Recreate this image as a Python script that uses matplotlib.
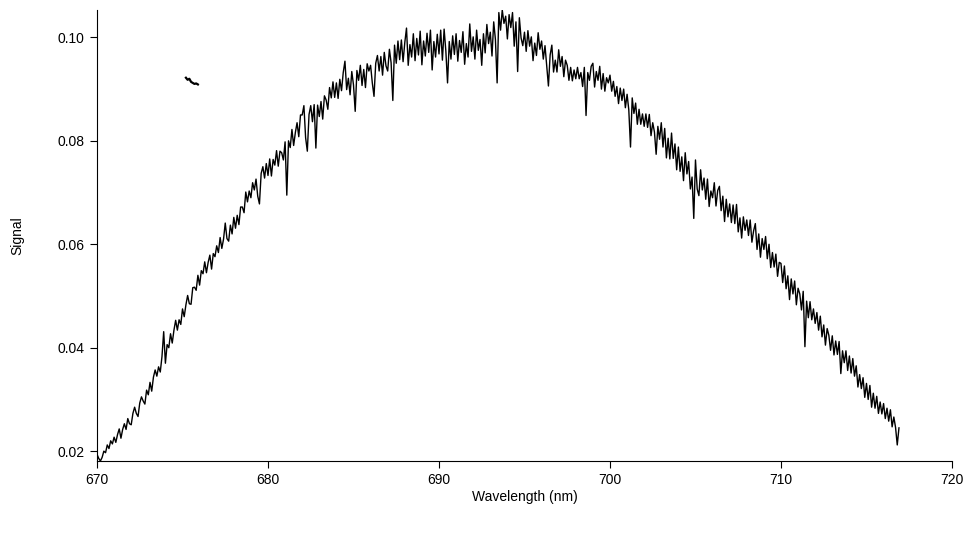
import numpy as np
import matplotlib
matplotlib.use("Agg")
import matplotlib.pyplot as plt

plt.rcParams['font.family'] = ['Liberation Sans', 'DejaVu Sans']

# Wavelength start (nm) and step of the main trace
wl_start = 670.0
wl_step = 0.1

# Signal values, one row per nm (670.0 ... 716.9)
signal_rows = [
    [0.0194, 0.0186, 0.0181, 0.0188, 0.0200, 0.0197, 0.0212, 0.0205, 0.0220, 0.0214],  # 670
    [0.0227, 0.0217, 0.0232, 0.0243, 0.0225, 0.0242, 0.0253, 0.0242, 0.0263, 0.0253],  # 671
    [0.0251, 0.0273, 0.0285, 0.0273, 0.0267, 0.0293, 0.0305, 0.0297, 0.0291, 0.0318],  # 672
    [0.0309, 0.0333, 0.0316, 0.0343, 0.0357, 0.0345, 0.0363, 0.0353, 0.0383, 0.0431],  # 673
    [0.0370, 0.0406, 0.0400, 0.0427, 0.0409, 0.0434, 0.0453, 0.0434, 0.0454, 0.0445],  # 674
    [0.0475, 0.0460, 0.0483, 0.0501, 0.0485, 0.0484, 0.0516, 0.0517, 0.0511, 0.0540],  # 675
    [0.0521, 0.0549, 0.0543, 0.0566, 0.0545, 0.0565, 0.0579, 0.0552, 0.0582, 0.0576],  # 676
    [0.0597, 0.0584, 0.0613, 0.0592, 0.0610, 0.0641, 0.0611, 0.0606, 0.0637, 0.0620],  # 677
    [0.0652, 0.0631, 0.0656, 0.0638, 0.0672, 0.0672, 0.0661, 0.0701, 0.0682, 0.0703],  # 678
    [0.0690, 0.0719, 0.0705, 0.0726, 0.0693, 0.0678, 0.0737, 0.0750, 0.0728, 0.0756],  # 679
    [0.0733, 0.0765, 0.0732, 0.0764, 0.0753, 0.0781, 0.0751, 0.0780, 0.0777, 0.0763],  # 680
    [0.0798, 0.0695, 0.0800, 0.0787, 0.0822, 0.0791, 0.0816, 0.0835, 0.0808, 0.0850],  # 681
    [0.0850, 0.0868, 0.0806, 0.0780, 0.0851, 0.0868, 0.0837, 0.0870, 0.0786, 0.0869],  # 682
    [0.0847, 0.0876, 0.0842, 0.0887, 0.0879, 0.0861, 0.0903, 0.0883, 0.0914, 0.0884],  # 683
    [0.0912, 0.0882, 0.0919, 0.0897, 0.0932, 0.0954, 0.0899, 0.0921, 0.0889, 0.0934],  # 684
    [0.0908, 0.0857, 0.0936, 0.0917, 0.0946, 0.0907, 0.0938, 0.0903, 0.0949, 0.0935],  # 685
    [0.0946, 0.0912, 0.0886, 0.0950, 0.0965, 0.0935, 0.0963, 0.0927, 0.0971, 0.0945],  # 686
    [0.0935, 0.0977, 0.0951, 0.0878, 0.0985, 0.0950, 0.0993, 0.0957, 0.0995, 0.0953],  # 687
    [0.0990, 0.1018, 0.0946, 0.0986, 0.0962, 0.1007, 0.0955, 0.0998, 0.0966, 0.1012],  # 688
    [0.0947, 0.0993, 0.0964, 0.1008, 0.0971, 0.1014, 0.0937, 0.0992, 0.0962, 0.1006],  # 689
    [0.0968, 0.1014, 0.0956, 0.1016, 0.0974, 0.0912, 0.0992, 0.0958, 0.1003, 0.0967],  # 690
    [0.1007, 0.0954, 0.0994, 0.0971, 0.1011, 0.0948, 0.0988, 0.0962, 0.1026, 0.0973],  # 691
    [0.1001, 0.0958, 0.1014, 0.0975, 0.0996, 0.0946, 0.1007, 0.0970, 0.1025, 0.0988],  # 692
    [0.1010, 0.0964, 0.1030, 0.0996, 0.0912, 0.1048, 0.1014, 0.1053, 0.1027, 0.1041],  # 693
    [0.0997, 0.1044, 0.1019, 0.1048, 0.0983, 0.1030, 0.0934, 0.1038, 0.0999, 0.0984],  # 694
    [0.1010, 0.0973, 0.1013, 0.0983, 0.1001, 0.0955, 0.0989, 0.0965, 0.1009, 0.0977],  # 695
    [0.0993, 0.0958, 0.0984, 0.0944, 0.0906, 0.0966, 0.0985, 0.0933, 0.0956, 0.0933],  # 696
    [0.0976, 0.0944, 0.0963, 0.0924, 0.0956, 0.0946, 0.0917, 0.0942, 0.0916, 0.0937],  # 697
    [0.0920, 0.0942, 0.0920, 0.0932, 0.0905, 0.0942, 0.0849, 0.0932, 0.0917, 0.0944],  # 698
    [0.0950, 0.0904, 0.0934, 0.0917, 0.0944, 0.0900, 0.0930, 0.0896, 0.0922, 0.0912],  # 699
    [0.0927, 0.0896, 0.0915, 0.0886, 0.0905, 0.0872, 0.0902, 0.0878, 0.0900, 0.0864],  # 700
    [0.0890, 0.0860, 0.0788, 0.0883, 0.0853, 0.0873, 0.0832, 0.0861, 0.0832, 0.0852],  # 701
    [0.0828, 0.0852, 0.0826, 0.0851, 0.0810, 0.0835, 0.0817, 0.0774, 0.0828, 0.0803],  # 702
    [0.0835, 0.0788, 0.0824, 0.0767, 0.0805, 0.0765, 0.0815, 0.0766, 0.0794, 0.0744],  # 703
    [0.0788, 0.0741, 0.0769, 0.0723, 0.0777, 0.0736, 0.0760, 0.0707, 0.0730, 0.0650],  # 704
    [0.0763, 0.0707, 0.0694, 0.0744, 0.0705, 0.0728, 0.0687, 0.0726, 0.0673, 0.0703],  # 705
    [0.0690, 0.0719, 0.0674, 0.0704, 0.0712, 0.0665, 0.0693, 0.0644, 0.0687, 0.0653],  # 706
    [0.0678, 0.0642, 0.0676, 0.0640, 0.0677, 0.0624, 0.0651, 0.0612, 0.0653, 0.0627],  # 707
    [0.0647, 0.0617, 0.0647, 0.0604, 0.0626, 0.0640, 0.0590, 0.0620, 0.0575, 0.0611],  # 708
    [0.0590, 0.0615, 0.0572, 0.0600, 0.0555, 0.0584, 0.0556, 0.0581, 0.0538, 0.0565],  # 709
    [0.0563, 0.0526, 0.0558, 0.0514, 0.0539, 0.0493, 0.0533, 0.0504, 0.0529, 0.0483],  # 710
    [0.0515, 0.0504, 0.0473, 0.0509, 0.0402, 0.0490, 0.0458, 0.0489, 0.0454, 0.0475],  # 711
    [0.0447, 0.0468, 0.0434, 0.0461, 0.0421, 0.0444, 0.0405, 0.0437, 0.0424, 0.0395],  # 712
    [0.0423, 0.0386, 0.0413, 0.0387, 0.0412, 0.0350, 0.0394, 0.0371, 0.0394, 0.0356],  # 713
    [0.0384, 0.0351, 0.0379, 0.0345, 0.0365, 0.0324, 0.0348, 0.0321, 0.0342, 0.0304],  # 714
    [0.0331, 0.0300, 0.0327, 0.0285, 0.0312, 0.0283, 0.0306, 0.0273, 0.0295, 0.0272],  # 715
    [0.0292, 0.0263, 0.0283, 0.0258, 0.0280, 0.0247, 0.0266, 0.0246, 0.0212, 0.0245],  # 716
]

# Short secondary trace near 675.5 nm
stray_x = [675.20, 675.30, 675.40, 675.50, 675.60, 675.70, 675.80, 675.90]
stray_y = [0.0922, 0.0918, 0.0920, 0.0914, 0.0912, 0.0910, 0.0911, 0.0909]

x_ticks = [670, 680, 690, 700, 710, 720]
y_ticks = [0.02, 0.04, 0.06, 0.08, 0.10]
y_tick_labels = ["0.02", "0.04", "0.06", "0.08", "0.10"]

signal = np.array(signal_rows).ravel()
wavelength = wl_start + wl_step * np.arange(signal.size)

fig = plt.figure(figsize=(9.71, 5.48), dpi=100)
ax = fig.add_axes([0.0999, 0.1588, 0.8805, 0.8230])
ax.plot(wavelength, signal, color='black', lw=1.0)
ax.plot(stray_x, stray_y, color='black', lw=1.6)

ax.set_xlim(670, 720)
ax.set_ylim(0.0181, 0.1053)
ax.set_xticks(x_ticks)
ax.set_yticks(y_ticks)
ax.set_yticklabels(y_tick_labels)
for s in ['top', 'right']:
    ax.spines[s].set_visible(False)
for s in ['left', 'bottom']:
    ax.spines[s].set_linewidth(0.8)
ax.tick_params(direction='out', length=5, width=0.8, labelsize=10, pad=4)
ax.set_xlabel('Wavelength (nm)', fontsize=10, labelpad=2)
ax.set_ylabel('Signal', fontsize=10, labelpad=24)

fig.savefig('out.png', dpi=100)
